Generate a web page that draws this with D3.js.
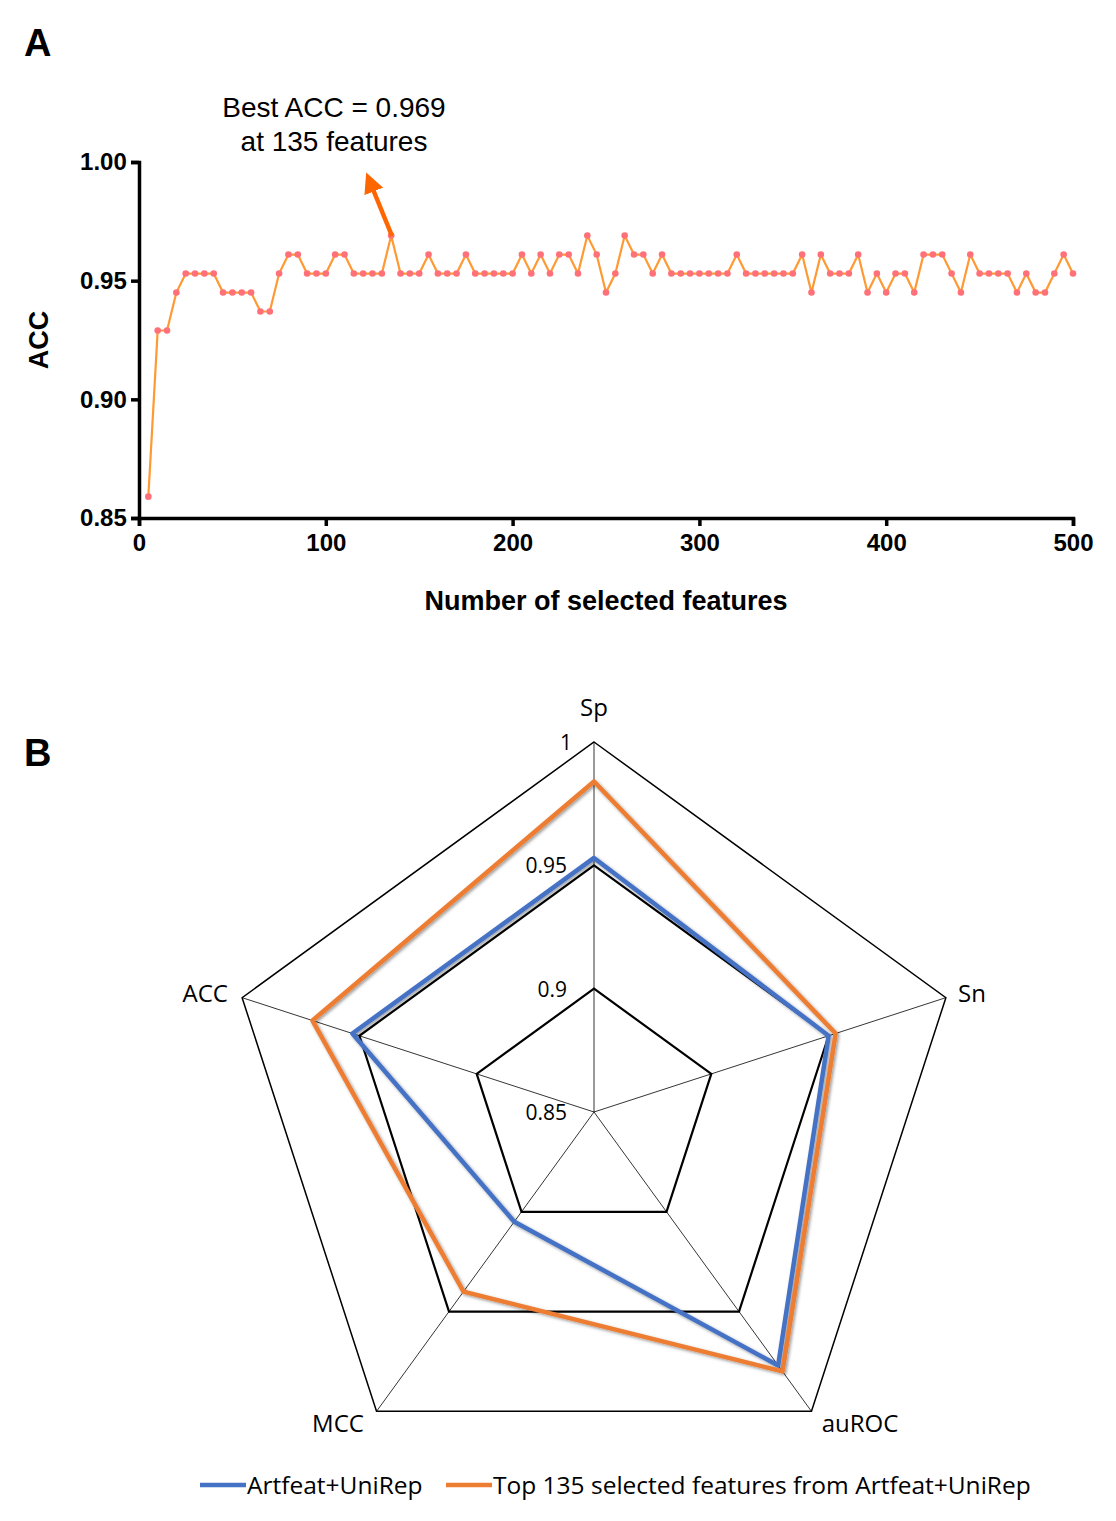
<!DOCTYPE html>
<html><head><meta charset="utf-8">
<script src="https://cdn.jsdelivr.net/npm/d3@7"></script>
<style>body{margin:0;background:#fff}</style></head>
<body><svg id="c" width="1116" height="1521"></svg>
<script>
const featureCounts = d3.range(5, 501, 5);
const accValues = [0.859,0.929,0.929,0.945,0.953,0.953,0.953,0.953,0.945,0.945,0.945,0.945,0.937,0.937,0.953,0.961,0.961,0.953,0.953,0.953,
0.961,0.961,0.953,0.953,0.953,0.953,0.969,0.953,0.953,0.953,0.961,0.953,0.953,0.953,0.961,0.953,0.953,0.953,0.953,0.953,
0.961,0.953,0.961,0.953,0.961,0.961,0.953,0.969,0.961,0.945,0.953,0.969,0.961,0.961,0.953,0.961,0.953,0.953,0.953,0.953,
0.953,0.953,0.953,0.961,0.953,0.953,0.953,0.953,0.953,0.953,0.961,0.945,0.961,0.953,0.953,0.953,0.961,0.945,0.953,0.945,
0.953,0.953,0.945,0.961,0.961,0.961,0.953,0.945,0.961,0.953,0.953,0.953,0.953,0.945,0.953,0.945,0.945,0.953,0.961,0.953];
const xTicks = [0,100,200,300,400,500];
const yTicks = [0.85,0.90,0.95,1.00];

const radarAxes = ["Sp","Sn","auROC","MCC","ACC"];
const radarRings = [0.85,0.9,0.95,1];
const seriesNames = ["Artfeat+UniRep","Top 135 selected features from Artfeat+UniRep"];
const seriesBlue = [0.953,0.950,0.977,0.905,0.953];
const seriesOrange = [0.984,0.953,0.980,0.940,0.970];

const svg = d3.select("#c");
const F = "Liberation Sans, Arial, sans-serif";
// Panel A
svg.append("text").attr("x",24).attr("y",56).text("A").attr("font-family",F).attr("font-weight","bold").attr("font-size",38);
const x = d3.scaleLinear().domain([0,500]).range([139,1073]);
const y = d3.scaleLinear().domain([0.85,1.0]).range([518,162]);
const ax = svg.append("g").attr("transform","translate(0,518)").call(d3.axisBottom(x).tickValues(xTicks).tickSize(8).tickFormat(d3.format("d")));
const ay = svg.append("g").attr("transform","translate(139,0)").call(d3.axisLeft(y).tickValues(yTicks).tickSize(8).tickFormat(d3.format(".2f")));
[ax,ay].forEach(g=>{g.selectAll("path,line").attr("stroke","#000").attr("stroke-width",3.5);
 g.selectAll("text").attr("font-family",F).attr("font-weight","bold").attr("font-size",24).attr("fill","#000");});
ax.selectAll("text").attr("dy","0.9em");
ay.selectAll("text").attr("dx","-0.05em");
svg.append("text").attr("x",606).attr("y",610).attr("text-anchor","middle").text("Number of selected features").attr("font-family",F).attr("font-weight","bold").attr("font-size",27);
svg.append("text").attr("transform","translate(48,340) rotate(-90)").attr("text-anchor","middle").text("ACC").attr("font-family",F).attr("font-weight","bold").attr("font-size",27);
const pts = featureCounts.map((f,i)=>[f,accValues[i]]);
svg.append("path").datum(pts).attr("fill","none").attr("stroke","#ff9933").attr("stroke-width",2.2)
 .attr("d",d3.line().x(d=>x(d[0])).y(d=>y(d[1])));
svg.selectAll("circle.p").data(pts).join("circle").attr("cx",d=>x(d[0])).attr("cy",d=>y(d[1])).attr("r",3.3).attr("fill","#ff7079");
svg.append("text").attr("x",334).attr("y",117).attr("text-anchor","middle").text("Best ACC = 0.969").attr("font-family",F).attr("font-size",28);
svg.append("text").attr("x",334).attr("y",151).attr("text-anchor","middle").text("at 135 features").attr("font-family",F).attr("font-size",28);
svg.append("defs").append("marker").attr("id","ah").attr("viewBox","0 0 10 10").attr("refX",5).attr("refY",5)
 .attr("markerWidth",4.5).attr("markerHeight",4.5).attr("orient","auto").append("path").attr("d","M0,0L10,5L0,10z").attr("fill","#ff6600");
svg.append("line").attr("x1",392).attr("y1",236).attr("x2",370).attr("y2",182).attr("stroke","#ff6600").attr("stroke-width",4.5).attr("marker-end","url(#ah)");

// Panel B
const G = "Open Sans, Noto Sans, sans-serif";
svg.append("text").attr("x",24).attr("y",766).text("B").attr("font-family",F).attr("font-weight","bold").attr("font-size",38);
const cx=594, cy=1112;
const r = d3.scaleLinear().domain([0.85,1]).range([0,370]);
const ang = i => -Math.PI/2 + i*2*Math.PI/5;
const P = (v,i)=>[cx+r(v)*Math.cos(ang(i)), cy+r(v)*Math.sin(ang(i))];
radarAxes.forEach((a,i)=>{const p=P(1,i);svg.append("line").attr("x1",cx).attr("y1",cy).attr("x2",p[0]).attr("y2",p[1]).attr("stroke","#000").attr("stroke-width",0.8);});
radarRings.slice(1).forEach(v=>{
 svg.append("polygon").attr("points",radarAxes.map((a,i)=>P(v,i).join(",")).join(" ")).attr("fill","none").attr("stroke","#000").attr("stroke-width",v===1?1.5:2.2);
});
radarRings.forEach(v=>{svg.append("text").attr("x",v===1?cx-22:cx-27).attr("y",cy-r(v)+8).attr("text-anchor","end").text(String(v)).attr("font-family",G).attr("font-size",21);});
const lab = [[594,716,"middle"],[958,1002,"start"],[860,1432,"middle"],[338,1432,"middle"],[228,1002,"end"]];
radarAxes.forEach((a,i)=>svg.append("text").attr("x",lab[i][0]).attr("y",lab[i][1]).attr("text-anchor",lab[i][2]).text(a).attr("font-family",G).attr("font-size",24));
const filt = svg.select("defs").append("filter").attr("id","sh").attr("x","-10%").attr("y","-10%").attr("width","120%").attr("height","120%");
filt.append("feDropShadow").attr("dx",1.5).attr("dy",1.5).attr("stdDeviation",1.5).attr("flood-opacity",0.4);
[[seriesBlue,"#4472c4"],[seriesOrange,"#ed7d31"]].forEach(([s,c])=>{
 svg.append("polygon").attr("points",s.map((v,i)=>P(v,i).join(",")).join(" ")).attr("fill","none").attr("stroke",c).attr("stroke-width",4.5).attr("stroke-linejoin","round").attr("filter","url(#sh)");
});
// legend
[[200,"#4472c4",seriesNames[0]],[446,"#ed7d31",seriesNames[1]]].forEach(([lx,c,t])=>{
 svg.append("line").attr("x1",lx).attr("x2",lx+46).attr("y1",1485).attr("y2",1485).attr("stroke",c).attr("stroke-width",4.5);
 svg.append("text").attr("x",lx+47).attr("y",1494).text(t).attr("font-family",G).attr("font-size",24.5);
});
</script></body></html>
